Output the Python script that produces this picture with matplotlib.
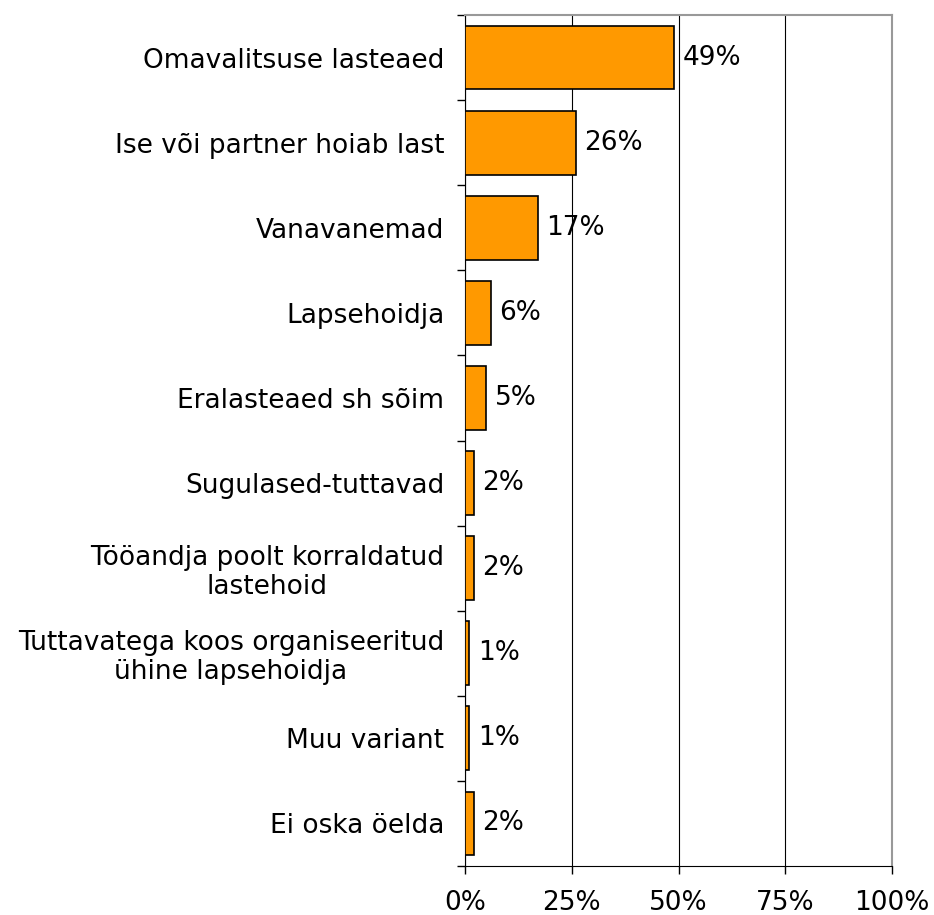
import numpy as np
import matplotlib.pyplot as plt
from matplotlib.ticker import FixedLocator, PercentFormatter

categories = ["Omavalitsuse lasteaed", "Ise või partner hoiab last", "Vanavanemad",
              "Lapsehoidja", "Eralasteaed sh sõim", "Sugulased-tuttavad",
              "Tööandja poolt korraldatud\nlastehoid",
              "Tuttavatega koos organiseeritud\nühine lapsehoidja",
              "Muu variant", "Ei oska öelda"]
values = [49, 26, 17, 6, 5, 2, 2, 1, 1, 2]
labels = ["49%", "26%", "17%", "6%", "5%", "2%", "2%", "1%", "1%", "2%"]

plt.rcParams['font.family'] = ['DejaVu Sans']
fig = plt.figure(figsize=(9.34, 9.15), dpi=100)
ax = fig.add_axes([465/934, 49/915, 427/934, 851/915])

y = np.arange(len(categories))
ax.barh(y, values, height=0.75, color="#FF9900", edgecolor="black", linewidth=1.2, zorder=3)
for yi, v, lab in zip(y, values, labels):
    ax.text(v + 2, yi, lab, va="center", ha="left", fontsize=19)

ax.set_xlim(0, 100)
ax.set_ylim(len(categories) - 0.5, -0.5)
ax.set_xticks([0, 25, 50, 75, 100])
ax.xaxis.set_major_formatter(PercentFormatter(decimals=0))
ax.grid(axis="x", color="black", linewidth=0.8, zorder=0)

ax.set_yticks(y)
ax.set_yticklabels(categories, fontsize=19, multialignment="center", linespacing=1.15)
ax.yaxis.set_minor_locator(FixedLocator(np.arange(-0.5, len(categories), 1)))
ax.tick_params(axis="y", which="major", length=0, pad=15)
ax.tick_params(axis="y", which="minor", length=6, width=1)
ax.tick_params(axis="x", length=6, width=1, labelsize=19, pad=11)

ax.spines["top"].set_color("#999999")
ax.spines["right"].set_color("#999999")
ax.spines["top"].set_linewidth(1.5)
ax.spines["right"].set_linewidth(1.5)

plt.savefig("out.png", dpi=100)
